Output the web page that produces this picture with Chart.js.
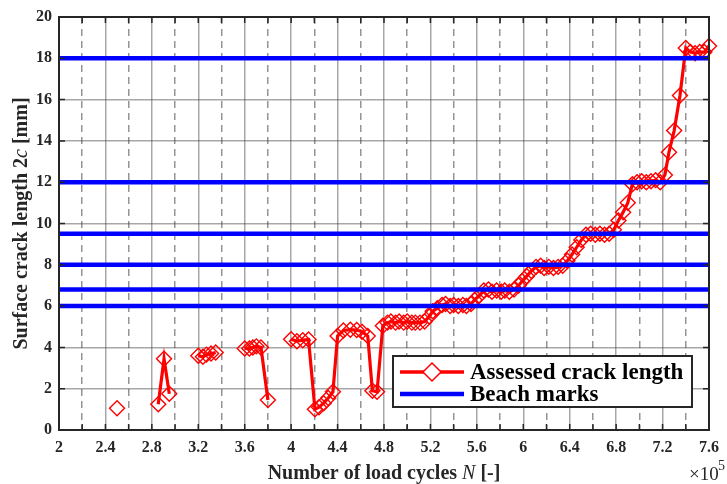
<!DOCTYPE html>
<html><head><meta charset="utf-8">
<script src="https://cdn.jsdelivr.net/npm/chart.js@4"></script>
<style>html,body{margin:0;padding:0;background:#fff}#wrap{width:727px;height:484px}</style>
</head><body><div id="wrap"><canvas id="c" width="727" height="484"></canvas></div>
<script>
// Number of load cycles N (x 10^5); null separates unconnected groups
const crackN = [
  2.50, null,
  2.855, 2.905, 2.95, null,
  3.20, 3.24, 3.27, 3.31, 3.35, null,
  3.60, 3.64, 3.67, 3.70, 3.74, 3.80, null,
  4.00, 4.05, 4.10, 4.15, 4.205, 4.24, 4.28, 4.32, 4.36, 4.40, 4.45, 4.51, 4.565, 4.61, 4.66,
  4.70, 4.74, 4.79, 4.83, 4.86, 4.90, 4.93, 4.97, 5.00, 5.04, 5.07, 5.11, 5.15,
  5.19, 5.22, 5.26, 5.30, 5.33, 5.37, 5.40, 5.44, 5.48, 5.51, 5.55,
  5.58, 5.62, 5.66, 5.70, 5.73, 5.77, 5.81, 5.84, 5.88, 5.92,
  5.96, 5.99, 6.03, 6.07, 6.11, 6.15, 6.18, 6.22, 6.26, 6.30, 6.34,
  6.38, 6.42, 6.46, 6.50, 6.54, 6.58, 6.62, 6.66, 6.70, 6.74,
  6.78, 6.82, 6.86, 6.90, 6.94, 6.98, 7.02, 7.06, 7.10, 7.14, 7.18,
  7.22, 7.255, 7.30, 7.35, 7.40, 7.44, 7.48, 7.52, 7.56, 7.60
];
// Assessed surface crack length 2c [mm]
const crackLen = [
  1.05, null,
  1.25, 3.45, 1.75, null,
  3.6, 3.55, 3.65, 3.7, 3.75, null,
  3.95, 3.95, 4.0, 4.05, 4.0, 1.45, null,
  4.4, 4.3, 4.35, 4.38, 1.0, 1.1, 1.3, 1.55, 1.85, 4.55, 4.82, 4.86, 4.84, 4.76, 4.55,
  1.9, 1.85, 5.05, 5.2, 5.25, 5.2, 5.25, 5.2, 5.25, 5.2, 5.2, 5.2, 5.25,
  5.5, 5.75, 5.9, 6.05, 6.1, 6.0, 6.05, 6.0, 6.05, 6.0, 6.1,
  6.3, 6.5, 6.75, 6.8, 6.7, 6.75, 6.7, 6.75, 6.7, 6.8,
  7.0, 7.2, 7.45, 7.7, 7.9, 7.95, 7.85, 7.9, 7.85, 7.9, 7.95,
  8.2, 8.5, 8.85, 9.2, 9.45, 9.5, 9.45, 9.5, 9.45, 9.5,
  9.7, 10.15, 10.55, 11.0, 11.9, 12.0, 12.05, 12.0, 12.05, 12.1, 12.0,
  12.35, 13.45, 14.5, 16.2, 18.5, 18.3, 18.25, 18.3, 18.3, 18.6
];
// Beach mark crack lengths [mm]
const beachMarks = [6, 6.8, 8, 9.5, 12, 18];
const xLimits = [2, 7.6];
const yLimits = [0, 20];
const seriesNames = ['Assessed crack length', 'Beach marks'];

const SERIF = '"Liberation Serif", "DejaVu Serif", serif';
const INK = '#262626';

const datasets = [];
beachMarks.forEach(b => datasets.push({
  label: seriesNames[1],
  data: [{x: xLimits[0], y: b}, {x: xLimits[1], y: b}],
  borderColor: '#0000ff', borderWidth: 4.5, pointRadius: 0, order: 0
}));
datasets.push({
  label: seriesNames[0],
  data: crackN.map((n, i) => ({x: n, y: crackLen[i]})),
  borderColor: '#ff0000', borderWidth: 3.2,
  pointStyle: 'rectRot', pointRadius: 7.5, pointBorderWidth: 1.4,
  pointBorderColor: '#ff0000', pointBackgroundColor: 'rgba(0,0,0,0)',
  spanGaps: false, tension: 0, clip: false, order: 1
});

const decor = {
  id: 'decor',
  afterDraw(chart) {
    const {ctx, chartArea: a, scales: {x, y}} = chart;
    ctx.save();
    // frame
    ctx.strokeStyle = INK; ctx.lineWidth = 2;
    ctx.strokeRect(a.left, a.top, a.right - a.left, a.bottom - a.top);
    // inward ticks
    ctx.lineWidth = 1.5;
    ctx.beginPath();
    x.ticks.forEach(t => {
      const px = x.getPixelForValue(t.value);
      ctx.moveTo(px, a.top); ctx.lineTo(px, a.top + 6);
      ctx.moveTo(px, a.bottom); ctx.lineTo(px, a.bottom - 6);
    });
    y.ticks.forEach(t => {
      const py = y.getPixelForValue(t.value);
      ctx.moveTo(a.left, py); ctx.lineTo(a.left + 6, py);
      ctx.moveTo(a.right, py); ctx.lineTo(a.right - 6, py);
    });
    ctx.stroke();

    // x title with italic N
    const parts = [['Number of load cycles ', 'bold 20px ' + SERIF], ['N', 'italic 20px ' + SERIF], [' [-]', 'bold 20px ' + SERIF]];
    let w = 0;
    parts.forEach(p => { ctx.font = p[1]; w += ctx.measureText(p[0]).width; });
    let px = (a.left + a.right) / 2 - w / 2;
    ctx.fillStyle = INK; ctx.textBaseline = 'alphabetic'; ctx.textAlign = 'left';
    parts.forEach(p => { ctx.font = p[1]; ctx.fillText(p[0], px, 479); px += ctx.measureText(p[0]).width; });

    // y title with italic c
    const yparts = [['Surface crack length 2', 'bold 20px ' + SERIF], ['c', 'italic 20px ' + SERIF], [' [mm]', 'bold 20px ' + SERIF]];
    ctx.save();
    ctx.translate(27, (a.top + a.bottom) / 2);
    ctx.rotate(-Math.PI / 2);
    w = 0;
    yparts.forEach(p => { ctx.font = p[1]; w += ctx.measureText(p[0]).width; });
    px = -w / 2;
    ctx.fillStyle = INK; ctx.textAlign = 'left';
    yparts.forEach(p => { ctx.font = p[1]; ctx.fillText(p[0], px, 0); px += ctx.measureText(p[0]).width; });
    ctx.restore();

    // exponent label
    ctx.fillStyle = INK; ctx.textAlign = 'left';
    ctx.font = '19px ' + SERIF;
    ctx.fillText('\u00d710', 689, 480);
    ctx.font = '14px ' + SERIF;
    ctx.fillText('5', 718, 470);

    // legend
    const lx = a.right - 316, ly = a.bottom - 74, lw = 299, lh = 51;
    ctx.fillStyle = '#fff'; ctx.fillRect(lx, ly, lw, lh);
    ctx.strokeStyle = INK; ctx.lineWidth = 2; ctx.strokeRect(lx, ly, lw, lh);
    const y1 = ly + 16, y2 = ly + 38;
    ctx.strokeStyle = '#ff0000'; ctx.lineWidth = 3.5;
    ctx.beginPath(); ctx.moveTo(lx + 7, y1); ctx.lineTo(lx + 71, y1); ctx.stroke();
    const dx = lx + 39;
    ctx.beginPath(); ctx.moveTo(dx, y1 - 9); ctx.lineTo(dx + 9, y1); ctx.lineTo(dx, y1 + 9); ctx.lineTo(dx - 9, y1); ctx.closePath();
    ctx.fillStyle = '#fff'; ctx.fill(); ctx.lineWidth = 1.5; ctx.stroke();
    ctx.strokeStyle = '#0000ff'; ctx.lineWidth = 4.5;
    ctx.beginPath(); ctx.moveTo(lx + 7, y2); ctx.lineTo(lx + 71, y2); ctx.stroke();
    ctx.fillStyle = '#000'; ctx.font = 'bold 23px ' + SERIF; ctx.textBaseline = 'middle';
    ctx.fillText(seriesNames[0], lx + 77, y1 + 1);
    ctx.fillText(seriesNames[1], lx + 77, y2 + 1);
    ctx.restore();
  }
};

new Chart(document.getElementById('c'), {
  type: 'line',
  data: {datasets},
  options: {
    responsive: false, animation: false, devicePixelRatio: 1,
    layout: {padding: {left: 0, top: 17, right: 7, bottom: 0}},
    plugins: {legend: {display: false}, tooltip: {enabled: false}},
    scales: {
      x: {
        type: 'linear', min: xLimits[0], max: xLimits[1],
        afterFit: s => { s.height = 54; },
        ticks: {
          stepSize: 0.2, autoSkip: false, maxRotation: 0, padding: 8,
          color: INK, font: {family: SERIF, size: 16, weight: 'bold'},
          callback: (v, i) => i % 2 === 0 ? String(Math.round(v * 10) / 10) : ''
        },
        grid: {
          drawTicks: false, lineWidth: 1.5,
          color: c => c.index % 2 === 0 ? 'rgba(60,60,60,0.45)' : 'rgba(60,60,60,0.55)'
        },
        border: {display: true, color: INK, width: 2, dash: c => (c.index % 2 === 1 ? [7, 5] : [])}
      },
      y: {
        min: yLimits[0], max: yLimits[1],
        afterFit: s => { s.width = 59; },
        ticks: {stepSize: 2, padding: 7, color: INK, font: {family: SERIF, size: 16, weight: 'bold'}},
        grid: {drawTicks: false, lineWidth: 1.5, color: 'rgba(60,60,60,0.45)'},
        border: {display: true, color: INK, width: 2}
      }
    }
  },
  plugins: [decor]
});
</script></body></html>
